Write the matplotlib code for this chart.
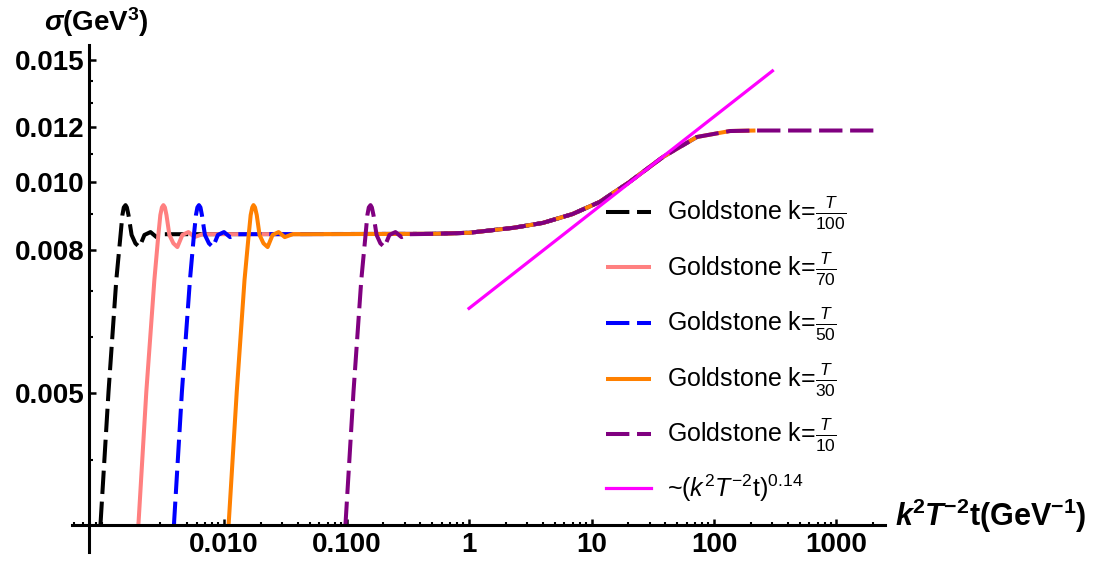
import numpy as np
import matplotlib
matplotlib.use("Agg")
import matplotlib.pyplot as plt
from matplotlib.ticker import FixedLocator, FixedFormatter, NullFormatter

plt.rcParams['font.family'] = ['Liberation Sans', 'DejaVu Sans']
plt.rcParams['mathtext.fontset'] = 'custom'
plt.rcParams['mathtext.rm'] = 'Liberation Sans'
plt.rcParams['mathtext.it'] = 'Liberation Sans:italic'
plt.rcParams['mathtext.bf'] = 'Liberation Sans:bold'
plt.rcParams['mathtext.bfit'] = 'Liberation Sans:italic:bold'

# sigma values of the early (onset + ringing) part, same shape for every k
early_sigma = [0.00323, 0.00501, 0.00725, 0.00841, 0.00898, 0.00921, 0.00928, 0.00921,
               0.00898, 0.00841, 0.00818, 0.00808, 0.00841, 0.00849, 0.00835, 0.00843]

# x positions of the early part for each k
x_k100 = [0.00098, 0.00114, 0.00132, 0.00143, 0.00148, 0.00152, 0.00157, 0.00161,
          0.00166, 0.00176, 0.00189, 0.00204, 0.00224, 0.00251, 0.00281, 0.00326]
x_k70 = [0.0020, 0.00232, 0.00270, 0.00291, 0.00302, 0.00311, 0.00320, 0.00329,
         0.00339, 0.00358, 0.00386, 0.00416, 0.00457, 0.00512, 0.00573, 0.00666]
x_k50 = [0.0039, 0.00453, 0.00527, 0.00568, 0.00590, 0.00606, 0.00624, 0.00642,
         0.00660, 0.00698, 0.00753, 0.00812, 0.00891, 0.00999, 0.0112, 0.0130]
x_k30 = [0.0109, 0.0127, 0.0147, 0.0159, 0.0165, 0.0170, 0.0174, 0.0179,
         0.0185, 0.0195, 0.0210, 0.0227, 0.0249, 0.0279, 0.0313, 0.0363]
x_k10 = [0.098, 0.114, 0.132, 0.143, 0.148, 0.152, 0.157, 0.161,
         0.166, 0.176, 0.189, 0.204, 0.224, 0.251, 0.281, 0.326]

# late common growth (all curves sit on top of each other here)
rise_x = [0.5, 1, 2.3, 4, 7, 11.7, 20, 38.4, 72.6, 135, 218, 500, 1000, 2000]
rise_sigma = [0.00844, 0.00847, 0.00861, 0.00875, 0.00901, 0.00938, 0.00999, 0.01088,
              0.01162, 0.01185, 0.01187, 0.01187, 0.01187, 0.01187]

# where each curve stops
x_end = [20, 40, 80, 218, 2000]

# power law guide
fit_x = [1, 300]
fit_sigma = [0.0066, 0.01445]

labels = [r"Goldstone k=$\frac{T}{100}$", r"Goldstone k=$\frac{T}{70}$",
          r"Goldstone k=$\frac{T}{50}$", r"Goldstone k=$\frac{T}{30}$",
          r"Goldstone k=$\frac{T}{10}$"]
colors = ['black', '#ff8080', '#0000ff', '#ff8000', '#800080']
dashed = [True, False, True, False, True]

fig = plt.figure(figsize=(10.94, 5.63), dpi=100)
ax = fig.add_axes([72/1094, 11/563, 813/1094, 507/563])
ax.set_xscale('log')
ax.set_yscale('log')

for xs, end, lab, c, d in zip([x_k100, x_k70, x_k50, x_k30, x_k10], x_end, labels, colors, dashed):
    xx = list(xs) + [r for r in rise_x if r <= end]
    yy = list(early_sigma) + [s for r, s in zip(rise_x, rise_sigma) if r <= end]
    line, = ax.plot(xx, yy, color=c, lw=2.9, label=lab, solid_capstyle='butt',
                    dash_capstyle='butt')
    if d:
        line.set_dashes((5.8, 1.9))

ax.plot(fit_x, fit_sigma, color='#ff00ff', lw=2.3, label=r"~$(k^{2}T^{-2}\mathrm{t})^{0.14}$")

ax.set_xlim(0.000574, 2489)
ax.set_ylim(0.002954, 0.01574)

for s in ['top', 'right']:
    ax.spines[s].set_visible(False)
ax.spines['left'].set_position(('data', 0.00079))
ax.spines['bottom'].set_position(('data', 0.00323))
for s in ['left', 'bottom']:
    ax.spines[s].set_linewidth(2.2)

yt = [0.005, 0.008, 0.010, 0.012, 0.015]
ax.yaxis.set_major_locator(FixedLocator(yt))
ax.yaxis.set_major_formatter(FixedFormatter(["0.005", "0.008", "0.010", "0.012", "0.015"]))
ax.yaxis.set_minor_locator(FixedLocator([0.004, 0.006, 0.007, 0.009, 0.011, 0.013, 0.014]))
ax.yaxis.set_minor_formatter(NullFormatter())

xt = [0.01, 0.1, 1, 10, 100, 1000]
ax.xaxis.set_major_locator(FixedLocator(xt))
ax.xaxis.set_major_formatter(FixedFormatter(["0.010", "0.100", "1", "10", "100", "1000"]))
xminor = [m * 10.0**e for e in range(-4, 4) for m in range(1, 10) if not (m == 1 and e >= -2)]
ax.xaxis.set_minor_locator(FixedLocator(xminor))
ax.xaxis.set_minor_formatter(NullFormatter())

ax.tick_params(axis='y', which='major', direction='in', length=5, width=1.8, pad=3, labelsize=20)
ax.tick_params(axis='y', which='minor', direction='in', length=3, width=1.5)
ax.tick_params(axis='x', which='major', direction='in', length=4, width=1.8, pad=5, labelsize=20)
ax.tick_params(axis='x', which='minor', direction='in', length=2.5, width=1.5)
for t in ax.get_xticklabels() + ax.get_yticklabels():
    t.set_fontweight('bold')

fig.text(44/1094, 1 - 31/563, r"$\mathbfit{\sigma}$(GeV$^{\mathbf{3}}$)", fontsize=20,
         fontweight='bold', va='baseline', ha='left')
fig.text(895/1094, 1 - 526/563,
         r"$\mathbfit{k}^{\mathbf{2}}\mathbfit{T}^{\mathbf{-2}}$t(GeV$^{\mathbf{-1}}$)",
         fontsize=22, fontweight='bold', va='baseline', ha='left')

ax.legend(loc='upper left', bbox_to_anchor=(606/1094, 1 - 195/563), bbox_transform=fig.transFigure,
          frameon=False, fontsize=18, handlelength=1.8, handletextpad=0.64, labelspacing=0.74,
          borderpad=0, borderaxespad=0)

fig.savefig("out.png", dpi=100)
